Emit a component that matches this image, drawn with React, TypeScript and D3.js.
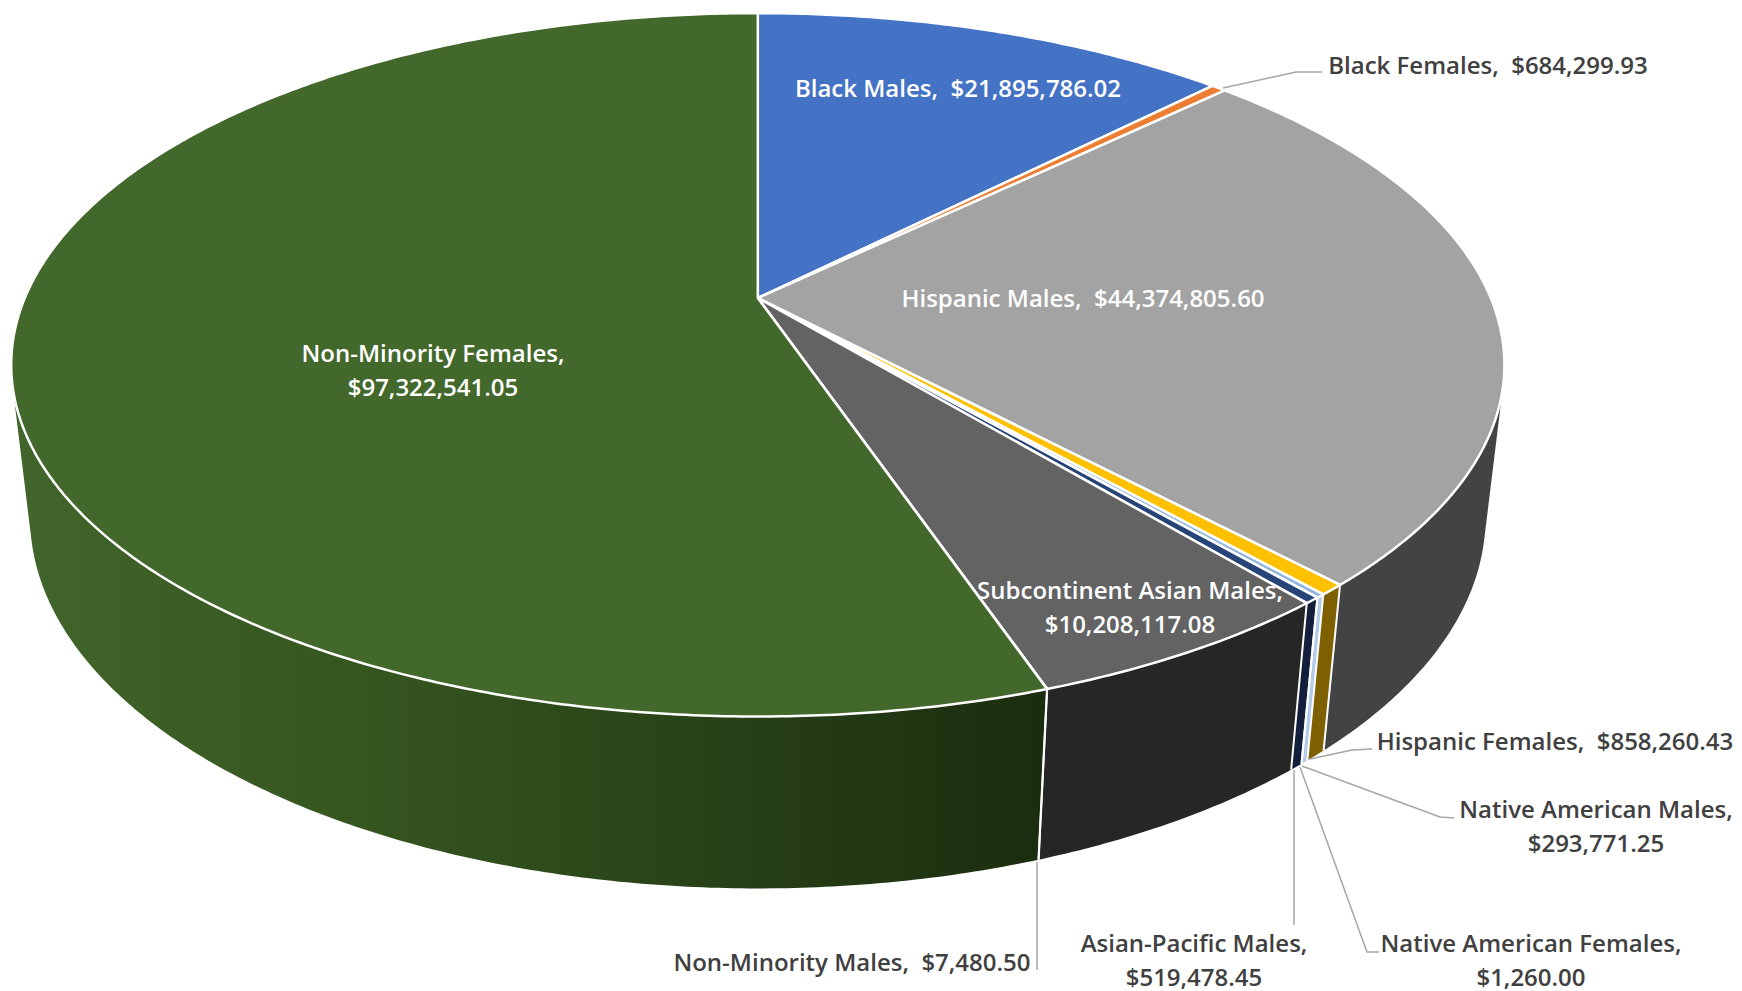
import React from "react";
import * as d3 from "d3";

// Contract dollars by owner group, clockwise from twelve o'clock.
const groups = [
  "Black Males",
  "Black Females",
  "Hispanic Males",
  "Hispanic Females",
  "Native American Males",
  "Native American Females",
  "Asian-Pacific Males",
  "Subcontinent Asian Males",
  "Non-Minority Males",
  "Non-Minority Females",
];
const dollars = [
  21895786.02, 684299.93, 44374805.6, 858260.43, 293771.25, 1260.0, 519478.45,
  10208117.08, 7480.5, 97322541.05,
];
const topColors = [
  "#4472c4", "#ed7d31", "#a3a3a3", "#ffc000", "#8fb4de", "#70ad47",
  "#264478", "#636363", "#9e480e", "#43682b",
];
const sideColors = [
  "#223962", "#773f18", "#434343", "#7f6000", "#b5cce8", "#385723",
  "#131f3c", "#262626", "#4f2407", "url(#greenSide)",
];

const WIDTH = 1742;
const HEIGHT = 991;

// Perspective model of the disc: apex of the pie, radii, tilt and thickness.
const APEX_X = 757.8;
const APEX_Y = 298;
const RADIUS_X = 733;
const RADIUS_Y = 339;
const TILT = 0.19;
const DROP = 154;
const DROP_SHRINK = 0.025;

type Pt = [number, number];

// Projects a disc point (polar, angle clockwise from the top) at height level h (0 top, 1 bottom).
function project(theta: number, r: number, h: number): Pt {
  const u = r * Math.sin(theta);
  const v = -r * Math.cos(theta);
  const w = 1 - TILT * v + DROP_SHRINK * h;
  return [APEX_X + (RADIUS_X * u) / w, APEX_Y + (RADIUS_Y * v + DROP * h) / w];
}

const STEP = Math.PI / 360;

function arcAngles(a: number, b: number): number[] {
  const n = Math.max(1, Math.ceil((b - a) / STEP));
  return d3.range(n + 1).map((i) => a + ((b - a) * i) / n);
}

function faces(t0: number, t1: number): boolean {
  const [a, b, c] = [project(t0, 1, 0), project(t1, 1, 0), project(t0, 1, 1)];
  return (b[0] - a[0]) * (c[1] - a[1]) - (b[1] - a[1]) * (c[0] - a[0]) < 0;
}

// Keeps only the part of an arc whose rim faces the viewer.
function frontAngles(a: number, b: number): number[] {
  const all = arcAngles(a, b);
  return all.filter((t, i) => {
    const next = i < all.length - 1 ? all[i + 1] : t + 1e-4;
    return faces(t, next);
  });
}

const pieLayout = d3
  .pie<number>()
  .sort(null)
  .value((d) => d)
  .startAngle(0)
  .endAngle(2 * Math.PI);

const polyline = d3.line<Pt>().curve(d3.curveLinear);

type LabelSpec = { lines: string[]; x: number; y: number; anchor: string; fill: string };

const DARK = "#404040";
const LIGHT = "#ffffff";

const labels: LabelSpec[] = [
  { lines: ["Black Males,  $21,895,786.02"], x: 958, y: 87, anchor: "middle", fill: LIGHT },
  { lines: ["Black Females,  $684,299.93"], x: 1488, y: 64, anchor: "middle", fill: DARK },
  { lines: ["Hispanic Males,  $44,374,805.60"], x: 1083, y: 297, anchor: "middle", fill: LIGHT },
  { lines: ["Non-Minority Females,", "$97,322,541.05"], x: 433, y: 352, anchor: "middle", fill: LIGHT },
  { lines: ["Subcontinent Asian Males,", "$10,208,117.08"], x: 1130, y: 589, anchor: "middle", fill: LIGHT },
  { lines: ["Hispanic Females,  $858,260.43"], x: 1555, y: 740, anchor: "middle", fill: DARK },
  { lines: ["Native American Males,", "$293,771.25"], x: 1596, y: 808, anchor: "middle", fill: DARK },
  { lines: ["Native American Females,", "$1,260.00"], x: 1531, y: 942, anchor: "middle", fill: DARK },
  { lines: ["Asian-Pacific Males,", "$519,478.45"], x: 1194, y: 942, anchor: "middle", fill: DARK },
  { lines: ["Non-Minority Males,  $7,480.50"], x: 852, y: 961, anchor: "middle", fill: DARK },
];

const leaders: Pt[][] = [
  [[1223, 88], [1296, 72], [1322, 72]],
  [[1310, 759], [1352, 750], [1372, 749]],
  [[1302, 766], [1440, 817], [1454, 818]],
  [[1300, 767], [1367, 952], [1379, 952]],
  [[1294, 770], [1294, 925]],
  [[1037, 862], [1037, 970]],
];

const LINE_GAP = 34;

export default function App() {
  const slices = pieLayout(dollars);

  const rims = slices.map((s, i) => {
    const angles = frontAngles(s.startAngle, s.endAngle);
    if (angles.length < 2) return null;
    const outline: Pt[] = [
      ...angles.map((t) => project(t, 1, 0)),
      ...[...angles].reverse().map((t) => project(t, 1, 1)),
    ];
    return <path key={groups[i]} d={polyline(outline) + "Z"} fill={sideColors[i]} />;
  });

  // White seams run down the rim at each visible slice boundary.
  const seams = slices.map((s, i) => {
    if (s.endAngle > 1.9 * Math.PI || !faces(s.endAngle, s.endAngle + 1e-4)) return null;
    const [x1, y1] = project(s.endAngle, 1, 0);
    const [x2, y2] = project(s.endAngle, 1, 1);
    return <line key={groups[i]} x1={x1} y1={y1} x2={x2} y2={y2} stroke="#ffffff" strokeWidth={2} />;
  });

  const tops = slices.map((s, i) => {
    const outline: Pt[] = [
      project(0, 0, 0),
      ...arcAngles(s.startAngle, s.endAngle).map((t) => project(t, 1, 0)),
    ];
    return (
      <path
        key={groups[i]}
        d={polyline(outline) + "Z"}
        fill={topColors[i]}
        stroke="#ffffff"
        strokeWidth={2.5}
        strokeLinejoin="round"
      />
    );
  });

  return (
    <svg
      width={WIDTH}
      height={HEIGHT}
      viewBox={`0 0 ${WIDTH} ${HEIGHT}`}
      style={{ position: "absolute", left: 0, top: 0, display: "block", background: "#ffffff" }}
    >
      <defs>
        <linearGradient id="greenSide" gradientUnits="userSpaceOnUse" x1={20} y1={0} x2={1040} y2={0}>
          <stop offset="0" stopColor="#41652a" />
          <stop offset="0.35" stopColor="#35551f" />
          <stop offset="1" stopColor="#1b2d0f" />
        </linearGradient>
      </defs>
      <g>{rims}</g>
      <g>{seams}</g>
      <g>{tops}</g>
      <g fill="none" stroke="#a6a6a6" strokeWidth={1.5}>
        {leaders.map((pts, i) => (
          <path key={i} d={polyline(pts) ?? ""} />
        ))}
      </g>
      <g fontFamily="'Open Sans', sans-serif" fontWeight={600} fontSize={24}>
        {labels.map((l) =>
          l.lines.map((line, j) => (
            <text
              key={line}
              x={l.x}
              y={l.y + j * LINE_GAP}
              textAnchor={l.anchor as "middle"}
              dominantBaseline="central"
              fill={l.fill}
              style={{ whiteSpace: "pre" }}
            >
              {line}
            </text>
          ))
        )}
      </g>
    </svg>
  );
}
